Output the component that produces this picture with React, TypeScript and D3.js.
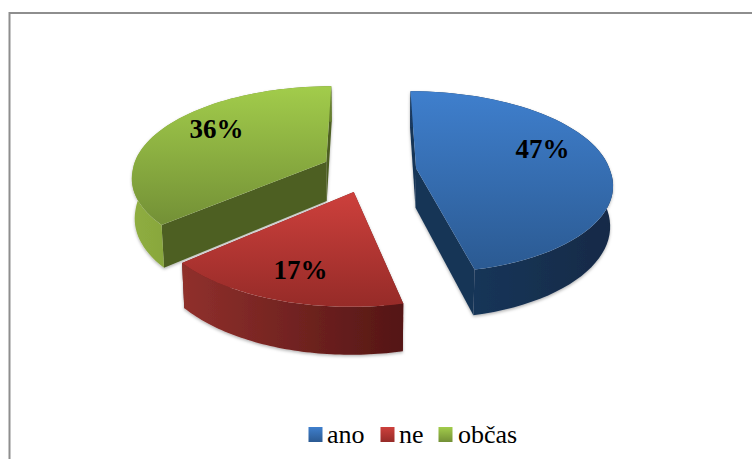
import React from "react";
import * as d3 from "d3";

const categories = ["ano", "ne", "občas"];
const values = [46.5, 17, 36.5];
const labels = ["47%", "17%", "36%"];

const W = 752, H = 459;
const CX = 369, CY = 170.6;
const RX = 194, RY = 88;
const PERSP_FAR = 0.135;
const PERSP_NEAR_X = 0.16;
const PERSP_NEAR_Y = 0.165;
const EXPLODE = 0.245;
const DEPTH = 39.5;
const BOTTOM_SCALE = 0.988;

const topStops = [["#3f7fcd", "#2b5a92"], ["#cd403c", "#962b28"], ["#a2cc4b", "#739036"]];
const rimStops = [["#1a3a60", "#142a47"], ["#90302c", "#541615"], ["#8fae40", "#66802e"]];
const cutFill = ["#183557", "#6e1f1d", "#4d5f23"];
const labelPos: [number, number][] = [[542.5, 158], [300.5, 279], [216.5, 138]];
const legendSwatchX = [308.5, 380.5, 438.5];
const legendTextX = [327, 399, 458];

type P = [number, number];

function project(X: number, Y: number, bottom: boolean): P {
  const wx = 1 + (Y > 0 ? PERSP_FAR : PERSP_NEAR_X) * Y;
  const wy = 1 + (Y > 0 ? PERSP_FAR : PERSP_NEAR_Y) * Y;
  const s = bottom ? BOTTOM_SCALE : 1;
  const x = CX + ((RX * X) / wx) * s;
  const y = CY + ((-RY * Y) / wy) * s + (bottom ? DEPTH / wy : 0);
  return [x, y];
}

const pieGen = d3.pie<number>().sort(null).startAngle(0).endAngle(2 * Math.PI);
const slices = pieGen(values);
const line = d3.line<P>().curve(d3.curveLinear);

function sliceGeometry(start: number, end: number) {
  const mid = (start + end) / 2;
  const ox = EXPLODE * Math.sin(mid);
  const oy = EXPLODE * Math.cos(mid);
  const angles = d3.range(0, 61).map((i) => start + ((end - start) * i) / 60);
  const rim = (b: boolean) => angles.map((a) => project(ox + Math.sin(a), oy + Math.cos(a), b));
  const apexT = project(ox, oy, false);
  const apexB = project(ox, oy, true);
  const rimT = rim(false);
  const rimB = rim(true);
  return {
    top: line([apexT, ...rimT])! + "Z",
    rim: line([...rimT, ...rimB.slice().reverse()])! + "Z",
    cutA: line([apexT, rimT[0], rimB[0], apexB])! + "Z",
    cutB: line([apexT, rimT[60], rimB[60], apexB])! + "Z",
  };
}

const paintOrder = [2, 0, 1];

export default function App() {
  return (
    <svg width={W} height={H} viewBox={`0 0 ${W} ${H}`}
      style={{ position: "absolute", left: 0, top: 0, display: "block", background: "#fff" }}>
      <defs>
        <filter id="sh" x="-10%" y="-10%" width="120%" height="120%">
          <feDropShadow dx="0" dy="1.5" stdDeviation="1.5" floodColor="#000" floodOpacity="0.3" />
        </filter>
        {categories.map((_, i) => (
          <React.Fragment key={i}>
            <linearGradient id={`top${i}`} x1="0" y1="0" x2="0" y2="1">
              <stop offset="0" stopColor={topStops[i][0]} />
              <stop offset="1" stopColor={topStops[i][1]} />
            </linearGradient>
            <linearGradient id={`rim${i}`} x1="0" y1="0" x2="1" y2="0">
              <stop offset="0" stopColor={rimStops[i][0]} />
              <stop offset="1" stopColor={rimStops[i][1]} />
            </linearGradient>
          </React.Fragment>
        ))}
      </defs>
      <rect x={0} y={0} width={W} height={H} fill="#fff" />
      <path d={`M9.5 ${H}V13H${W}`} fill="none" stroke="#8e8e8e" strokeWidth={2} />
      {paintOrder.map((i) => {
        const g = sliceGeometry(slices[i].startAngle, slices[i].endAngle);
        return (
          <g key={i}>
            <g filter="url(#sh)">
              <path d={g.cutB} fill={cutFill[i]} />
              <path d={g.cutA} fill={cutFill[i]} />
              <path d={g.rim} fill={`url(#rim${i})`} />
            </g>
            <path d={g.top} fill={`url(#top${i})`} />
          </g>
        );
      })}
      {labels.map((t, i) => (
        <text key={t} x={labelPos[i][0]} y={labelPos[i][1]} textAnchor="middle"
          fontFamily="Liberation Serif" fontWeight="bold" fontSize={27} fill="#000">{t}</text>
      ))}
      {categories.map((c, i) => (
        <g key={c}>
          <rect x={legendSwatchX[i]} y={427} width={14} height={15} fill={`url(#top${i})`} />
          <text x={legendTextX[i]} y={443} fontFamily="Liberation Serif" fontSize={26} fill="#000">{c}</text>
        </g>
      ))}
    </svg>
  );
}
